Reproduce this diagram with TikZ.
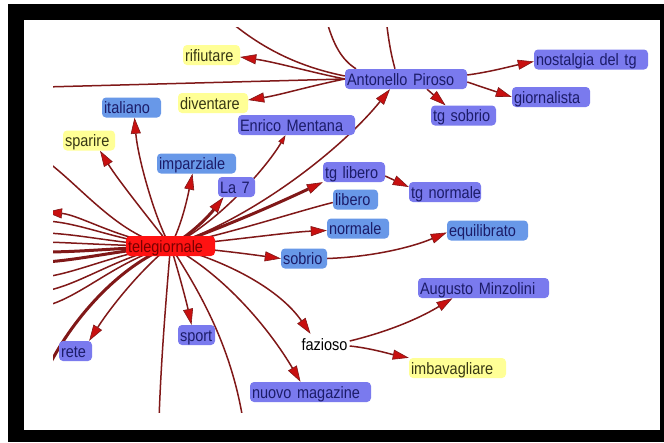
\documentclass[tikz,border=0pt]{standalone}
\usepackage{fontspec}
\setmainfont{Liberation Sans}[FakeStretch=0.88]
\usetikzlibrary{arrows.meta}
\pgfdeclarelayer{back}
\pgfdeclarelayer{edges}
\pgfsetlayers{back,edges,main}
\definecolor{pur}{RGB}{122,122,238}
\definecolor{blu}{RGB}{104,152,232}
\definecolor{yel}{RGB}{255,255,150}
\definecolor{redn}{RGB}{255,18,18}
\definecolor{edg}{RGB}{128,24,24}
\definecolor{arr}{RGB}{200,16,16}
\definecolor{txtb}{RGB}{28,28,105}
\definecolor{txty}{RGB}{55,55,20}
\definecolor{txtr}{RGB}{120,0,0}
\begin{document}
\begin{tikzpicture}[x=1pt,y=-1pt,
  nbox/.style={rounded corners=4pt, inner xsep=2pt, inner ysep=0pt, minimum height=20pt,
    align=left, font=\fontsize{16.5}{18}\selectfont, text height=15pt, text depth=3pt},
  pn/.style={nbox, fill=pur, text=txtb},
  bn/.style={nbox, fill=blu, text=txtb},
  yn/.style={nbox, fill=yel, text=txty},
  rn/.style={nbox, fill=redn, text=txtr},
  ln/.style={draw=edg, line width=1.5pt},
  tk/.style={line width=3pt},
  ar/.style={ln, -{Triangle[length=16pt,width=10pt,fill=arr,line width=0.6pt]}},
  ars/.style={ln, -{Triangle[length=9pt,width=6pt,fill=arr,line width=0.6pt]}}]
\useasboundingbox (0,0) rectangle (664,442);
\begin{pgfonlayer}{back}
\fill[white] (0,0) rectangle (664,442);
\fill[black] (8,4) rectangle (664,442);
\fill[white] (24,20) rectangle (660,430);
\end{pgfonlayer}
% nodes
\node[yn, text width=53pt] (rifiutare) at (211.5,55) {rifiutare};
\node[yn, text width=66pt] (diventare) at (213,103) {diventare};
\node[bn, text width=55pt] (italiano) at (131.5,107.5) {italiano};
\node[yn, text width=48pt] (sparire) at (89,140.5) {sparire};
\node[pn, text width=113pt] (mentana) at (296.5,125) {Enrico Mentana};
\node[bn, text width=75pt] (imparziale) at (196.5,163.5) {imparziale};
\node[pn, text width=33pt] (la7) at (236.5,187) {La 7};
\node[pn, text width=58pt] (tglibero) at (354,172) {tg libero};
\node[bn, text width=41pt] (libero) at (355.5,199.5) {libero};
\node[bn, text width=58pt] (normale) at (358,228.5) {normale};
\node[bn, text width=42pt] (sobrio) at (304,258.5) {sobrio};
\node[rn, text width=85pt] (tele) at (170.5,246) {telegiornale};
\node[pn, text width=118pt] (piroso) at (406,79) {Antonello Piroso};
\node[pn, text width=110pt] (nostalgia) at (591,59.5) {nostalgia del tg};
\node[pn, text width=74pt] (giornalista) at (551,97) {giornalista};
\node[pn, text width=61pt] (tgsobrio) at (463.5,115.5) {tg sobrio};
\node[pn, text width=68pt] (tgnormale) at (445,192) {\mbox{tg normale}};
\node[bn, text width=77pt] (equilibrato) at (487.5,230.5) {equilibrato};
\node[pn, text width=127pt] (minzolini) at (483.5,288) {Augusto Minzolini};
\node[yn, text width=93pt] (imbavagliare) at (457.5,368) {imbavagliare};
\node[nbox, text=black, text width=46pt] (fazioso) at (324.5,344) {fazioso};
\node[pn, text width=117pt] (magazine) at (310.5,392) {nuovo magazine};
\node[pn, text width=33pt] (sport) at (196.5,335) {sport};
\node[pn, text width=29pt] (rete) at (75.5,351) {rete};
% free ends
\coordinate (L1) at (45,160);
\coordinate (L2) at (46,212);
\coordinate (L3) at (45,221);
\coordinate (L4) at (45,233);
\coordinate (L5) at (45,242);
\coordinate (L6) at (45,252);
\coordinate (L7) at (45,262);
\coordinate (L8) at (45,277);
\coordinate (L9) at (45,291);
\coordinate (L10) at (45,306);
\coordinate (L11) at (45,374);
\coordinate (B1) at (159,420);
\coordinate (B2) at (243,420);
\coordinate (LA) at (45,87);
\coordinate (T1) at (226,18);
\coordinate (T2) at (326,18);
\coordinate (T3) at (386,18);
\begin{pgfonlayer}{edges}
\begin{scope}
\clip (53,27) rectangle (660,412);
% telegiornale fan
\draw[ar] (tele.center) .. controls (150,220) and (118,180) .. ([xshift=11pt]sparire.south);
\draw[ar] (tele.center) .. controls (157,225) and (138,160) .. ([xshift=3pt]italiano.south);
\draw[ar] (tele.center) .. controls (182,225) and (188,195) .. ([xshift=-4pt]imparziale.south);
\draw[ar,tk] (tele.center) .. controls (195,232) and (212,212) .. ([xshift=-13pt]la7.south);
\draw[ars] (tele.center) .. controls (215,225) and (265,170) .. ([xshift=-11pt]mentana.south);
\draw[ar] (tele.center) .. controls (260,215) and (345,145) .. ([xshift=-16pt]piroso.south);
\draw[ar,tk] (tele.center) .. controls (230,225) and (285,200) .. (tglibero.south west);
\draw[ln] (tele.center) .. controls (235,232) and (295,212) .. ([yshift=-3pt]libero.west);
\draw[ar] (tele.center) .. controls (235,240) and (290,232) .. ([yshift=-2pt]normale.west);
\draw[ar] (tele.center) .. controls (220,250) and (255,255) .. (sobrio.west);
\draw[ar] (tele.center) .. controls (230,262) and (280,290) .. ([xshift=-14pt]fazioso.north);
\draw[ar] (tele.center) .. controls (225,275) and (270,330) .. ([xshift=-10pt]magazine.north);
\draw[ar] (tele.center) .. controls (178,270) and (186,300) .. ([xshift=-5pt]sport.north);
\draw[ar] (tele.center) .. controls (145,265) and (112,305) .. ([xshift=-3pt]rete.north east);
\draw[ln] (tele.center) .. controls (166,300) and (161,360) .. (B1);
\draw[ln] (tele.center) .. controls (195,285) and (230,340) .. (B2);
\draw[ln] (tele.center) .. controls (120,238) and (80,185) .. (L1);
\draw[ar] (tele.center) .. controls (120,240) and (80,215) .. (L2);
\draw[ln] (tele.center) .. controls (120,242) and (80,222) .. (L3);
\draw[ln] (tele.center) .. controls (120,244) and (80,234) .. (L4);
\draw[ln] (tele.center) .. controls (120,246) and (80,243) .. (L5);
\draw[ln,tk] (tele.center) .. controls (120,248) and (80,252) .. (L6);
\draw[ln,tk] (tele.center) .. controls (120,250) and (80,260) .. (L7);
\draw[ln] (tele.center) .. controls (120,252) and (80,272) .. (L8);
\draw[ln] (tele.center) .. controls (120,255) and (80,285) .. (L9);
\draw[ln] (tele.center) .. controls (120,258) and (80,298) .. (L10);
\draw[ln,tk] (tele.center) .. controls (120,265) and (70,320) .. (L11);
% Antonello Piroso
\draw[ar] (piroso.west) .. controls (310,72) and (275,62) .. ([yshift=-2pt]rifiutare.east);
\draw[ar] (piroso.west) .. controls (310,86) and (280,95) .. ([yshift=3pt]diventare.east);
\draw[ln] (piroso.west) -- (LA);
\draw[ln] (T1) .. controls (265,52) and (305,68) .. ([yshift=3pt]piroso.west);
\draw[ln] (T2) .. controls (333,45) and (342,60) .. ([xshift=-50pt]piroso.north);
\draw[ln] (T3) .. controls (389,45) and (392,58) .. ([xshift=-11pt]piroso.north);
\draw[ar] ([yshift=4pt]piroso.east) .. controls (490,72) and (512,66) .. ([yshift=-2pt]nostalgia.west);
\draw[ar] ([yshift=-3pt]piroso.east) -- (giornalista.west);
\draw[ar] ([xshift=21pt]piroso.south) -- ([xshift=-18pt]tgsobrio.north);
% others
\draw[ar] ([yshift=-4pt]tglibero.east) -- ([yshift=5pt]tgnormale.west);
\draw[ar] (sobrio.east) .. controls (370,257) and (410,248) .. ([yshift=-2pt]equilibrato.west);
\draw[ar] ([yshift=3pt]fazioso.east) .. controls (395,330) and (425,315) .. ([xshift=-31pt]minzolini.south);
\draw[ar] ([yshift=-2pt]fazioso.east) .. controls (370,348) and (390,354) .. (imbavagliare.north west);
\end{scope}
\end{pgfonlayer}
\end{tikzpicture}
\end{document}
